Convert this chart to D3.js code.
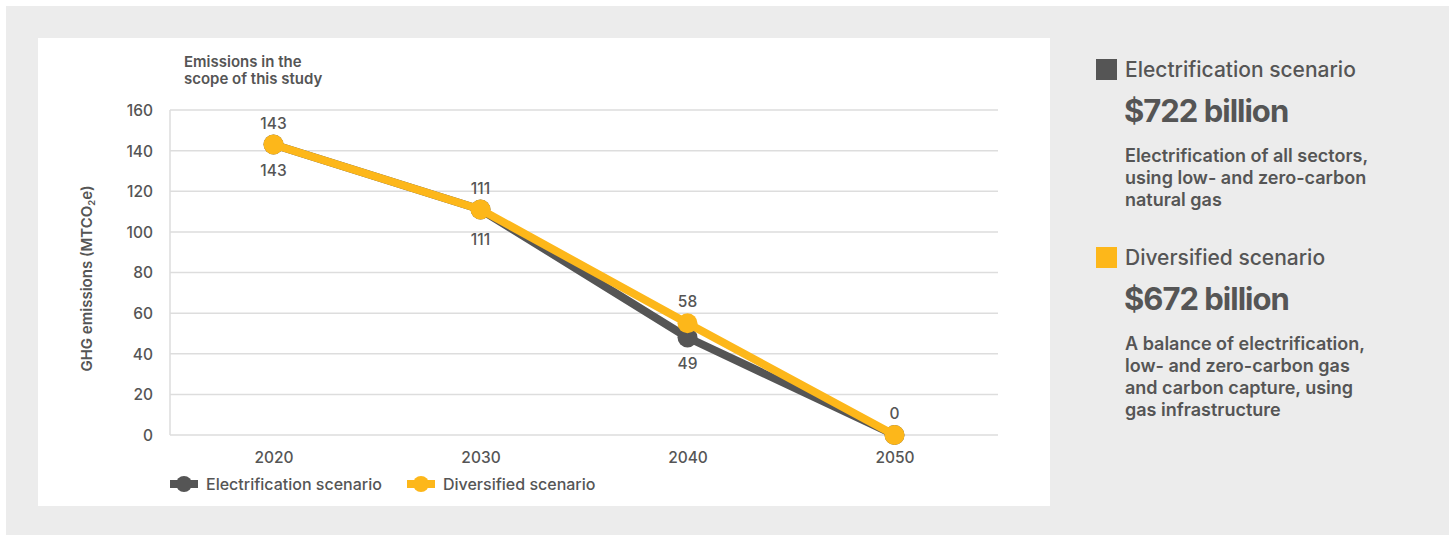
<!DOCTYPE html>
<html>
<head>
<meta charset="utf-8">
<script src="https://cdn.jsdelivr.net/npm/d3@7"></script>
<style>
  html, body { margin: 0; padding: 0; background: #fff; }
  svg { display: block; font-family: Inter, "Liberation Sans", Arial, sans-serif; }
</style>
</head>
<body>
<div class="canva"></div>
<script>
// data
const years = ['2020', '2030', '2040', '2050'];
const electrification = [143, 111, 48, 0];
const diversified = [143, 111, 55, 0];
const electrificationLabels = ['143', '111', '49', '0'];
const diversifiedLabels = ['143', '111', '58', '0'];
const yTicks = [0, 20, 40, 60, 80, 100, 120, 140, 160];
const seriesNames = ['Electrification scenario', 'Diversified scenario'];
const costs = ['$722 billion', '$672 billion'];
const descriptions = [
  ['Electrification of all sectors,', 'using low- and zero-carbon', 'natural gas'],
  ['A balance of electrification,', 'low- and zero-carbon gas', 'and carbon capture, using', 'gas infrastructure']
];

const DARK = '#555555';
const YELLOW = '#fdb71a';
const TEXT = '#555555';
const GRID = '#dddddd';

const svg = d3.select('.canva').append('svg')
  .attr('width', 1449)
  .attr('height', 535);

// backgrounds
svg.append('rect').attr('x', 6).attr('y', 6).attr('width', 1443).attr('height', 529).attr('fill', '#ececec');
svg.append('rect').attr('x', 38).attr('y', 38).attr('width', 1012).attr('height', 468).attr('fill', '#fff');

// scales
const x = d3.scalePoint().domain(years).range([170, 998]).padding(0.5);
const y = d3.scaleLinear().domain([0, 160]).range([435, 110]);

// gridlines
svg.append('g')
  .selectAll('line')
  .data(yTicks)
  .join('line')
    .attr('x1', 170).attr('x2', 998)
    .attr('y1', d => y(d)).attr('y2', d => y(d))
    .attr('stroke', GRID).attr('stroke-width', 1.5);

svg.append('line')
  .attr('x1', 170).attr('x2', 170)
  .attr('y1', y(160)).attr('y2', y(0))
  .attr('stroke', GRID).attr('stroke-width', 1.5);

// y axis
const yAxis = svg.append('g')
  .attr('transform', 'translate(170,0)')
  .call(d3.axisLeft(y).tickValues(yTicks).tickSize(0).tickPadding(17))
  .attr('font-family', null);
yAxis.select('.domain').remove();
yAxis.selectAll('text')
  .attr('fill', TEXT).style('font-size', '15.5px').style('font-weight', 500)
  .attr('dy', '0.35em');

// x axis
const xAxis = svg.append('g')
  .attr('transform', 'translate(0,' + y(0) + ')')
  .call(d3.axisBottom(x).tickSize(0).tickPadding(17))
  .attr('font-family', null);
xAxis.select('.domain').remove();
xAxis.selectAll('text')
  .attr('fill', TEXT).style('font-size', '15.5px').style('font-weight', 500);

// titles
const title = svg.append('text')
  .attr('x', 184).attr('y', 67)
  .attr('fill', TEXT).style('font-size', '15px').style('font-weight', 600);
title.append('tspan').attr('x', 184).text('Emissions in the');
title.append('tspan').attr('x', 184).attr('dy', 17).text('scope of this study');

const yLabel = svg.append('text')
  .attr('transform', 'translate(92,' + ((y(0) + y(160)) / 2 + 6) + ') rotate(-90)')
  .attr('text-anchor', 'middle')
  .attr('fill', TEXT).style('font-size', '15px').style('font-weight', 600);
yLabel.append('tspan').text('GHG emissions (MTCO');
yLabel.append('tspan').attr('baseline-shift', '-25%').style('font-size', '9.5px').text('2');
yLabel.append('tspan').text('e)');

// lines
const line = d3.line()
  .x((d, i) => x(years[i]))
  .y(d => y(d));

function drawSeries(values, color) {
  svg.append('path')
    .datum(values)
    .attr('d', line)
    .attr('fill', 'none')
    .attr('stroke', color)
    .attr('stroke-width', 8)
    .attr('stroke-linejoin', 'round');
  svg.append('g')
    .selectAll('circle')
    .data(values)
    .join('circle')
      .attr('cx', (d, i) => x(years[i]))
      .attr('cy', d => y(d))
      .attr('r', 10)
      .attr('fill', color);
}
drawSeries(electrification, DARK);
drawSeries(diversified, YELLOW);

// data labels
svg.append('g')
  .selectAll('text')
  .data(electrification)
  .join('text')
    .attr('x', (d, i) => x(years[i]))
    .attr('y', (d, i) => y(d) + (i === 1 ? 35 : 31))
    .attr('text-anchor', 'middle')
    .attr('fill', TEXT).style('font-size', '15.5px').style('font-weight', 500)
    .text((d, i) => i === 3 ? '' : electrificationLabels[i]);

svg.append('g')
  .selectAll('text')
  .data(diversified)
  .join('text')
    .attr('x', (d, i) => x(years[i]))
    .attr('y', d => y(d) - 16)
    .attr('text-anchor', 'middle')
    .attr('fill', TEXT).style('font-size', '15.5px').style('font-weight', 500)
    .text((d, i) => diversifiedLabels[i]);

// bottom legend
const legendX = [170, 407];
const legendColors = [DARK, YELLOW];
const legend = svg.append('g')
  .selectAll('g')
  .data(seriesNames)
  .join('g')
    .attr('transform', (d, i) => 'translate(' + legendX[i] + ',484)');
legend.append('line')
  .attr('x1', 0).attr('x2', 28).attr('y1', 0).attr('y2', 0)
  .attr('stroke', (d, i) => legendColors[i]).attr('stroke-width', 8);
legend.append('circle')
  .attr('cx', 14).attr('cy', 0).attr('r', 8)
  .attr('fill', (d, i) => legendColors[i]);
legend.append('text')
  .attr('x', 36).attr('y', 5.5)
  .attr('fill', TEXT).style('font-size', '16px').style('font-weight', 500)
  .text(d => d);

// right side panel
const panelY = [59, 247];
const panel = svg.append('g')
  .selectAll('g')
  .data(seriesNames)
  .join('g')
    .attr('transform', (d, i) => 'translate(1096,' + panelY[i] + ')');
panel.append('rect')
  .attr('width', 21).attr('height', 21)
  .attr('fill', (d, i) => legendColors[i]);
panel.append('text')
  .attr('x', 29).attr('y', 18)
  .attr('fill', TEXT).style('font-size', '21px').style('font-weight', 500)
  .text(d => d);
panel.append('text')
  .attr('x', 28).attr('y', 63)
  .attr('fill', TEXT).style('font-size', '31px').style('font-weight', 700)
  .style('letter-spacing', '-1px')
  .text((d, i) => costs[i]);
panel.each(function(d, i) {
  const t = d3.select(this).append('text')
    .attr('x', 29).attr('y', 103)
    .attr('fill', TEXT).style('font-size', '18px').style('font-weight', 600);
  descriptions[i].forEach((s, j) => {
    t.append('tspan').attr('x', 29).attr('dy', j === 0 ? 0 : 22).text(s);
  });
});
</script>
</body>
</html>
